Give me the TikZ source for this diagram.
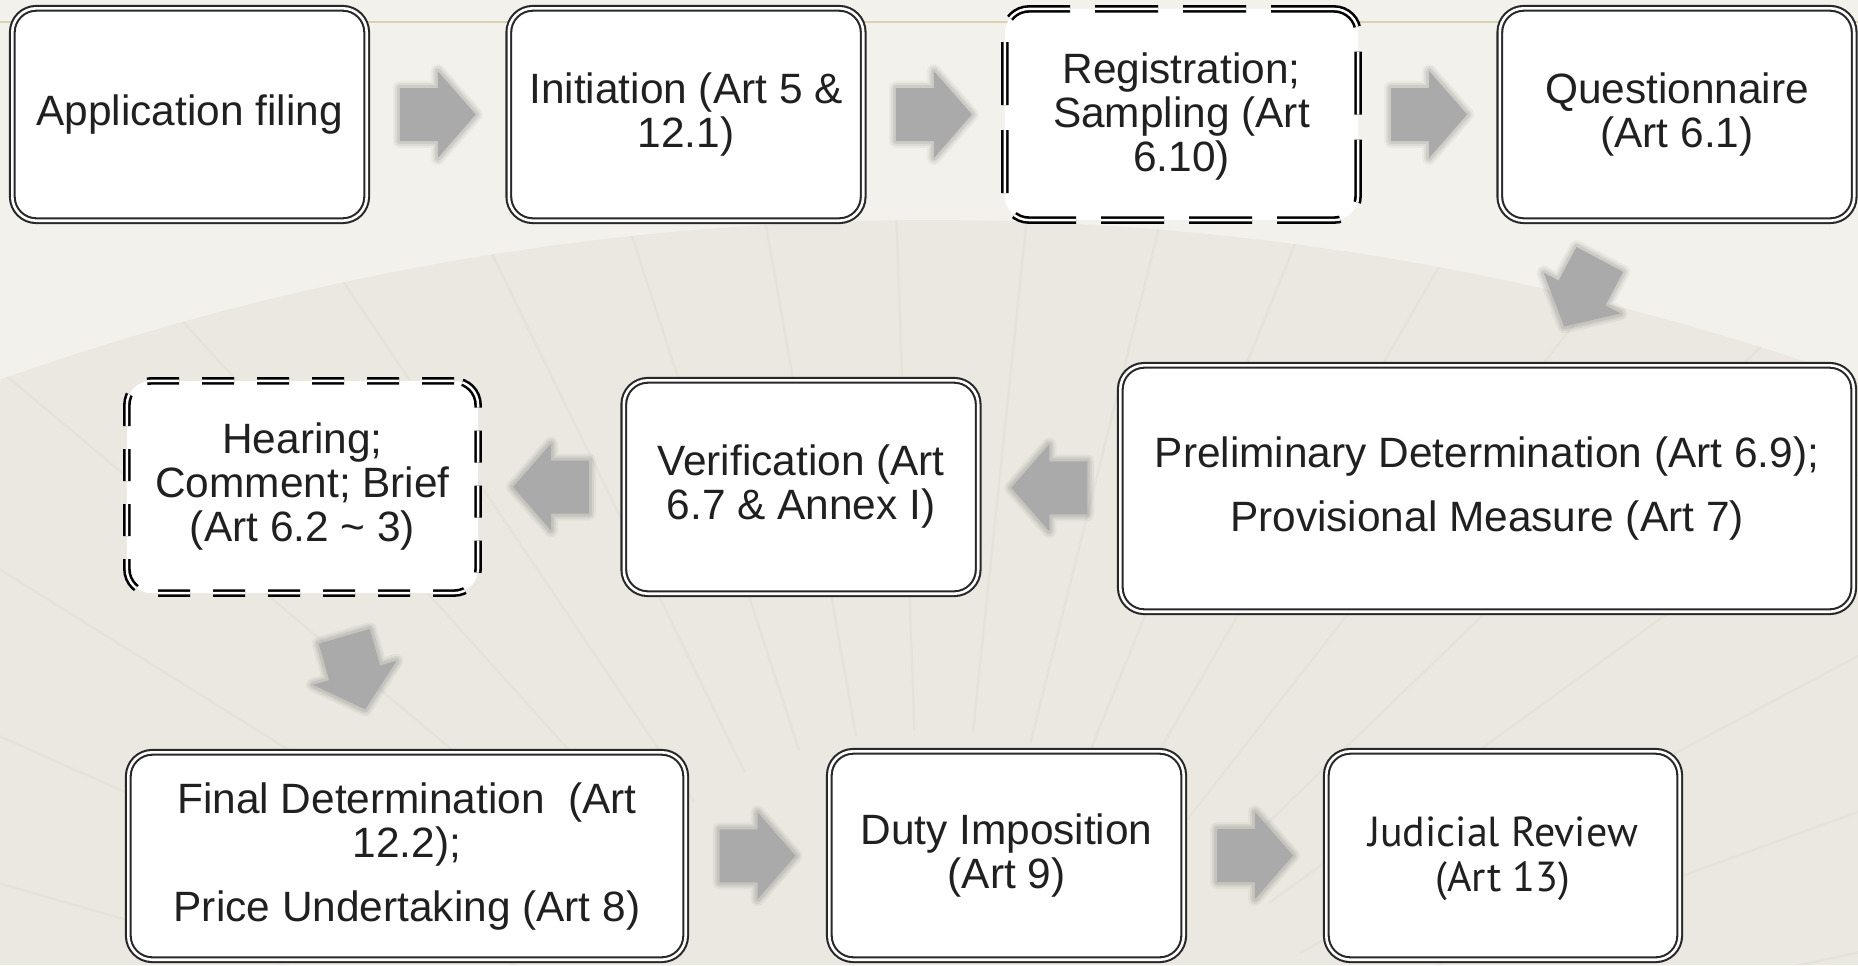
\documentclass[tikz,border=0pt]{standalone}
\usepackage{fontspec}
\setmainfont{Liberation Sans}
\newfontfamily\jrfont{PT Sans}
\usetikzlibrary{calc}
\definecolor{bgc}{RGB}{242,241,235}
\definecolor{fanc}{RGB}{234,232,224}
\definecolor{ribc}{RGB}{222,219,209}
\definecolor{topline}{RGB}{217,210,180}
\definecolor{arrowc}{RGB}{170,170,170}
\definecolor{textc}{RGB}{32,32,32}
\definecolor{boxline}{RGB}{40,40,40}
\newcommand{\boxfont}{\fontsize{21.2pt}{22pt}\selectfont}
\tikzset{
  box/.style={rectangle, rounded corners=12pt, draw=boxline, line width=1.05pt,
    double=white, double distance=1.3pt, fill=white, align=center,
    inner sep=0pt, font=\boxfont, text=textc},
  smallbox/.style={box, minimum width=177.2pt, minimum height=106.2pt},
  longdash/.style={draw=black, line width=1.3pt, double distance=1.2pt, dash pattern=on 31.5pt off 12.5pt},
  shortdash/.style={draw=black, line width=1.3pt, double distance=1.2pt, dash pattern=on 16pt off 11.5pt},
  blockarrow/.pic={
    \foreach \lw/\op in {7pt/0.035,5pt/0.05,3pt/0.07}
      \draw[line width=\lw, black, opacity=\op, line join=round]
        (-38,-26.5) -- (0,-26.5) -- (0,-43.5) -- (38,0) -- (0,43.5) -- (0,26.5) -- (-38,26.5) -- cycle;
    \fill[arrowc] (-38,-26.5) -- (0,-26.5) -- (0,-43.5) -- (38,0) -- (0,43.5) -- (0,26.5) -- (-38,26.5) -- cycle;
  }
}
\begin{document}
\begin{tikzpicture}[x=0.5pt,y=-0.5pt]
% background
\fill[bgc] (0,0) rectangle (1858,965);
\useasboundingbox (0,0) rectangle (1858,965);
\begin{scope}
\clip (0,0) rectangle (1858,965);
\coordinate (fanc0) at (929,3000);
\path[fill=fanc] ($(fanc0)+(-125:2780)$) arc[start angle=-125, end angle=-55, radius=2780]
  -- (1858,965) -- (0,965) -- cycle;
\clip ($(fanc0)+(-125:2780)$) arc[start angle=-125, end angle=-55, radius=2780]
  -- (1858,965) -- (0,965) -- cycle;
\coordinate (ribc0) at (929,1150);
\foreach \a in {-172,-164,...,-8}
  \draw[ribc, line width=1.2pt, opacity=0.4] ($(ribc0)+(\a:420)$) -- ($(ribc0)+(\a:1500)$);
\end{scope}
\draw[topline, line width=1.4pt] (0,22) -- (1858,22);

% boxes
\node[smallbox] (app) at (189.5,114.5) {Application filing};
\node[smallbox] (init) at (686,114.5) {Initiation (Art 5 \&\\12.1)};
\node[smallbox, longdash, minimum width=176.6pt, minimum height=105.6pt] (reg) at (1181.5,114.5) {\rule{0pt}{17pt}Registration;\\Sampling (Art\\6.10)};
\node[smallbox] (quest) at (1677,114.5) {Questionnaire\\(Art 6.1)};

\node[box, minimum width=366.7pt, minimum height=123.2pt] (prelim) at (1487,488.5)
  {Preliminary Determination (Art 6.9);\\[10pt]Provisional Measure (Art 7)};
\node[box, minimum width=177.2pt, minimum height=106.7pt] (verif) at (801,487)
  {Verification (Art\\6.7 \& Annex I)};
\node[box, shortdash, minimum width=175.6pt, minimum height=106.1pt] (hear) at (302.5,487)
  {Hearing;\\Comment; Brief\\(Art 6.2 \textasciitilde{} 3)};

\node[box, minimum width=278.7pt, minimum height=103.7pt] (final) at (407,856)
  {\rule{0pt}{16pt}Final Determination\ \ (Art\\12.2);\\[10pt]Price Undertaking (Art 8)};
\node[box, minimum width=177.2pt, minimum height=104.2pt] (duty) at (1006.5,855.5)
  {Duty Imposition\\(Art 9)};
\node[box, minimum width=176.7pt, minimum height=104.2pt,
  font=\jrfont\fontsize{21pt}{22.5pt}\selectfont] (jr) at (1503,855.5)
  {\rule{0pt}{18pt}Judicial Review\\(Art 13)};

% block arrows
\pic (a1) at ($(app.east)!0.5!(init.west)$) {blockarrow};
\pic (a2) at ($(init.east)!0.5!(reg.west)$) {blockarrow};
\pic (a3) at ($(reg.east)!0.5!(quest.west)$) {blockarrow};
\pic[rotate=242] (a4) at ($(quest.south)!0.5!(prelim.north)$) {blockarrow};
\pic[rotate=180] (a5) at ($(prelim.west)!0.5!(verif.east)$) {blockarrow};
\pic[rotate=180] (a6) at ($(verif.west)!0.5!(hear.east)$) {blockarrow};
\pic[rotate=286] (a7) at ($(hear.south)!0.5!(final.north)$) {blockarrow};
\pic (a8) at ($(final.east)!0.5!(duty.west)$) {blockarrow};
\pic (a9) at ($(duty.east)!0.5!(jr.west)$) {blockarrow};
\end{tikzpicture}
\end{document}
